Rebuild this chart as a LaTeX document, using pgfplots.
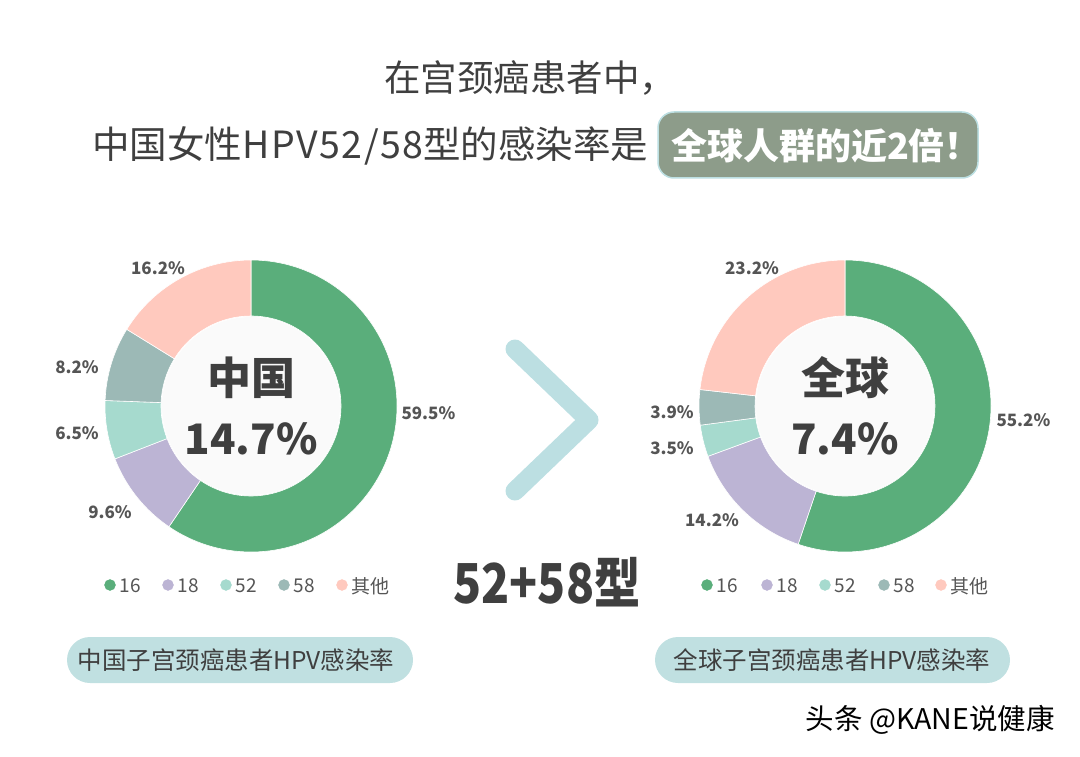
\documentclass[border=0pt]{standalone}
\usepackage{pgfplots}
\pgfplotsset{compat=1.18}
\usepackage{fontspec}
\setmainfont{Noto Sans CJK SC}
\newfontfamily\condfont{Noto Sans CJK SC}[FakeStretch=0.84]

\definecolor{c16}{HTML}{5AAE7B}
\definecolor{c18}{HTML}{BCB4D4}
\definecolor{c52}{HTML}{A6DACE}
\definecolor{c58}{HTML}{9CB9B6}
\definecolor{coth}{HTML}{FFC9BE}
\definecolor{txt}{HTML}{3F3F3F}
\definecolor{lbl}{HTML}{555555}
\definecolor{boxg}{HTML}{8D9C8A}
\definecolor{pill}{HTML}{C0E0E1}
\definecolor{chev}{HTML}{BCDFE2}
\definecolor{inner}{HTML}{FAFAFA}

% donut: centre x, centre y, list of value/colour (clockwise from 12 o'clock)
\newcommand\donut[3]{%
  \gdef\acc{90}%
  \foreach \v/\col in {#3}{%
    \pgfmathsetmacro\aend{\acc-3.6*\v}%
    \edef\tmp{\noexpand\fill[\col,draw=white,line width=0.6pt]
      (axis cs:#1,#2) ++(\acc:146pt) arc[start angle=\acc,end angle=\aend,radius=146pt]
      -- ++(\aend:-56pt) arc[start angle=\aend,end angle=\acc,radius=90pt] -- cycle;}%
    \tmp
    \global\let\acc\aend
  }%
  \fill[inner] (axis cs:#1,#2) circle[radius=89pt];
}

\begin{document}
\begin{tikzpicture}
\begin{axis}[
  width=1080pt, height=757pt, scale only axis,
  xmin=0, xmax=1080, ymin=0, ymax=757, y dir=reverse,
  hide axis, clip=false,
]
\path (rel axis cs:0,0) rectangle (rel axis cs:1,1);

% title
\node[txt, font=\fontsize{36.5}{40}\selectfont] at (axis cs:530,78) {在宫颈癌患者中，};
\node[txt, anchor=east, font=\fontsize{37.5}{42}\selectfont] at (axis cs:652,146)
  {中国女性H\kern1.5pt P\kern1.5pt V\kern1.5pt 5\kern1.5pt 2\kern1.5pt /\kern1.5pt 5\kern1.5pt 8型的感染率是};
\draw[fill=boxg, draw=chev, line width=1.5pt, rounded corners=16pt] (axis cs:658,112) rectangle (axis cs:978,178);
\node[white, font=\fontsize{36}{42}\selectfont\bfseries] at (axis cs:826,146) {全球人群的近2倍！};

% China: 16, 18, 52, 58, other
\donut{251}{406}{59.5/c16, 9.6/c18, 6.5/c52, 8.2/c58, 16.2/coth}
% Global
\donut{845}{406}{55.2/c16, 14.2/c18, 3.5/c52, 3.9/c58, 23.2/coth}

\begin{scope}[every node/.style={lbl, font=\fontsize{17}{20}\selectfont\bfseries}]
\node[anchor=west] at (axis cs:398,413) {59.5\%};
\node at (axis cs:110,512) {9.6\%};
\node at (axis cs:77,433) {6.5\%};
\node at (axis cs:77,367) {8.2\%};
\node at (axis cs:158,268) {16.2\%};
\node[anchor=west] at (axis cs:993,420) {55.2\%};
\node at (axis cs:712,520) {14.2\%};
\node at (axis cs:672,448) {3.5\%};
\node at (axis cs:672,412) {3.9\%};
\node at (axis cs:752,268) {23.2\%};
\end{scope}

\node[txt, font=\fontsize{44}{48}\selectfont\bfseries] at (axis cs:251,378) {中国};
\node[txt, font=\fontsize{42}{48}\selectfont\bfseries] at (axis cs:251,439) {14.7\%};
\node[txt, font=\fontsize{44}{48}\selectfont\bfseries] at (axis cs:845,378) {全球};
\node[txt, font=\fontsize{42}{48}\selectfont\bfseries] at (axis cs:845,439) {7.4\%};

% chevron
\addplot[chev, line width=19pt, line cap=round, line join=round] coordinates {(515,349) (589,420) (515,491)};

\node[txt, font=\condfont\fontsize{55}{60}\selectfont\bfseries] at (axis cs:547,582) {52+58型};

% legends
\addplot[only marks, mark=*, mark size=5.5pt, c16, mark options={draw=none}] coordinates {(110,585) (707,585)};
\addplot[only marks, mark=*, mark size=5.5pt, c18, mark options={draw=none}] coordinates {(168,585) (767,585)};
\addplot[only marks, mark=*, mark size=5.5pt, c52, mark options={draw=none}] coordinates {(226,585) (825,585)};
\addplot[only marks, mark=*, mark size=5.5pt, c58, mark options={draw=none}] coordinates {(284,585) (884,585)};
\addplot[only marks, mark=*, mark size=5.5pt, coth, mark options={draw=none}] coordinates {(342,585) (941,585)};
\begin{scope}[every node/.style={lbl, anchor=west, font=\fontsize{19}{22}\selectfont}]
\node at (axis cs:116,586) {16};
\node at (axis cs:174,586) {18};
\node at (axis cs:232,586) {52};
\node at (axis cs:290,586) {58};
\node at (axis cs:348,586) {其他};
\node at (axis cs:713,586) {16};
\node at (axis cs:773,586) {18};
\node at (axis cs:831,586) {52};
\node at (axis cs:890,586) {58};
\node at (axis cs:947,586) {其他};
\end{scope}

% captions
\fill[pill, rounded corners=23pt] (axis cs:67,637) rectangle (axis cs:413,683);
\fill[pill, rounded corners=23pt] (axis cs:655,637) rectangle (axis cs:1010,683);
\node[txt, font=\fontsize{24.5}{28}\selectfont] at (axis cs:236,660) {中国子宫颈癌患者HPV感染率};
\node[txt, font=\fontsize{24.5}{28}\selectfont] at (axis cs:832,660) {全球子宫颈癌患者HPV感染率};

\node[black, anchor=east, font=\fontsize{28.5}{32}\selectfont] at (axis cs:1058,720) {头条 @KANE说健康};
\end{axis}
\end{tikzpicture}
\end{document}
